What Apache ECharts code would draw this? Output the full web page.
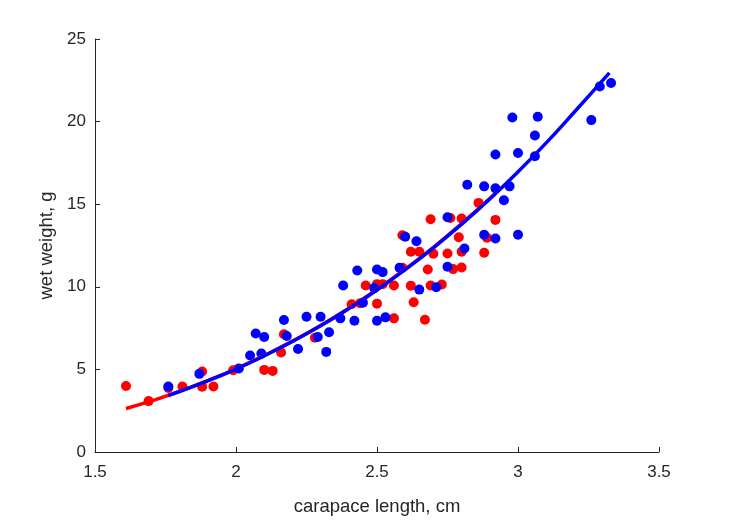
<!DOCTYPE html>
<html>
<head>
<meta charset="utf-8">
<script src="https://cdn.jsdelivr.net/npm/echarts@6/dist/echarts.min.js"></script>
<style>
  html, body {margin: 0; padding: 0; background: #fff;}
  #chart {width: 729px; height: 521px;}
</style>
</head>
<body>
<div id="chart"></div>
<script>
// measured points, [carapace length cm, wet weight g]
const redPoints = [
  [1.61, 3.99], [1.69, 3.08], [1.76, 3.88], [1.81, 3.97], [1.88, 4.87], [1.88, 3.95],
  [1.92, 3.97], [1.99, 4.95], [2.10, 4.97], [2.13, 4.91], [2.16, 6.02], [2.17, 7.13],
  [2.28, 6.92], [2.41, 8.94], [2.44, 9.0], [2.46, 10.08], [2.50, 10.16], [2.50, 8.98],
  [2.52, 10.16], [2.56, 10.08], [2.56, 8.09], [2.59, 13.12], [2.59, 11.15], [2.62, 12.12],
  [2.62, 10.07], [2.63, 9.06], [2.65, 12.12], [2.67, 8.01], [2.68, 11.05], [2.69, 14.09],
  [2.69, 10.08], [2.70, 12.0], [2.73, 10.14], [2.75, 12.02], [2.76, 14.17], [2.77, 11.07],
  [2.79, 13.0], [2.80, 11.17], [2.80, 14.13], [2.80, 12.12], [2.86, 15.08], [2.88, 12.06],
  [2.89, 12.97], [2.92, 14.05]
];
const bluePoints = [
  [1.76, 3.97], [1.87, 4.73], [2.01, 5.05], [2.05, 5.84], [2.07, 7.17], [2.09, 5.96],
  [2.10, 6.96], [2.17, 7.99], [2.18, 7.02], [2.22, 6.24], [2.25, 8.19], [2.29, 6.96],
  [2.30, 8.19], [2.32, 6.06], [2.33, 7.25], [2.37, 8.09], [2.38, 10.08], [2.42, 7.95],
  [2.43, 10.99], [2.45, 9.04], [2.49, 9.92], [2.50, 11.05], [2.50, 7.95], [2.52, 10.89],
  [2.53, 8.15], [2.58, 11.15], [2.60, 13.03], [2.64, 12.76], [2.65, 9.83], [2.71, 9.98],
  [2.75, 14.21], [2.75, 11.21], [2.81, 12.32], [2.82, 16.18], [2.88, 16.08], [2.88, 13.15],
  [2.92, 15.96], [2.92, 12.92], [2.92, 18.01], [2.95, 15.24], [2.97, 16.08], [2.98, 20.25],
  [3.00, 18.10], [3.00, 13.15], [3.06, 17.9], [3.06, 19.16], [3.07, 20.29], [3.26, 20.09],
  [3.29, 22.12], [3.33, 22.34]
];
// fitted curves
const redFitX = [1.61, 1.7, 1.8, 1.9, 2.0, 2.1, 2.2, 2.3, 2.4, 2.5, 2.6, 2.7, 2.8, 2.92];
const redFitY = [2.63, 3.09, 3.67, 4.32, 5.04, 5.84, 6.71, 7.66, 8.71, 9.84, 11.07, 12.39, 13.82, 15.66];
const blueFitX = [1.76, 1.9, 2.0, 2.1, 2.2, 2.3, 2.4, 2.5, 2.6, 2.7, 2.8, 2.9, 3.0, 3.1, 3.2, 3.324];
const blueFitY = [3.42, 4.31, 5.02, 5.82, 6.69, 7.64, 8.68, 9.81, 11.04, 12.36, 13.79, 15.32, 16.96, 18.71, 20.58, 22.95];

const xTicks = [1.5, 2, 2.5, 3, 3.5];
const yTicks = [0, 5, 10, 15, 20, 25];

const axisColor = "#262626";
const font = "Liberation Sans, Arial, Helvetica, sans-serif";

const zip = (xs, ys) => xs.map((x, i) => [x, ys[i]]);

const chart = echarts.init(document.getElementById("chart"));
chart.setOption({
  animation: false,
  backgroundColor: "#fff",
  grid: {left: 95, right: 70, top: 39, bottom: 68, containLabel: false},
  xAxis: {
    type: "value",
    min: xTicks[0],
    max: xTicks[xTicks.length - 1],
    interval: 0.5,
    name: "carapace length, cm",
    nameLocation: "middle",
    nameGap: 45,
    nameTextStyle: {color: axisColor, fontSize: 18.5, fontFamily: font},
    axisLine: {show: true, lineStyle: {color: axisColor, width: 1}},
    axisTick: {show: true, inside: true, length: 5, lineStyle: {color: axisColor}},
    axisLabel: {color: axisColor, fontSize: 17, fontFamily: font, margin: 12},
    splitLine: {show: false},
  },
  yAxis: {
    type: "value",
    min: yTicks[0],
    max: yTicks[yTicks.length - 1],
    interval: 5,
    name: "wet weight, g",
    nameLocation: "middle",
    nameGap: 38,
    nameTextStyle: {color: axisColor, fontSize: 18.5, fontFamily: font},
    axisLine: {show: true, lineStyle: {color: axisColor, width: 1}},
    axisTick: {show: true, inside: true, length: 5, lineStyle: {color: axisColor}},
    axisLabel: {color: axisColor, fontSize: 17, fontFamily: font, margin: 9},
    splitLine: {show: false},
  },
  series: [
    {
      type: "scatter",
      data: redPoints,
      symbolSize: 10,
      itemStyle: {color: "#ff0000", opacity: 1},
      z: 2,
    },
    {
      type: "scatter",
      data: bluePoints,
      symbolSize: 10,
      itemStyle: {color: "#0000ff", opacity: 1},
      z: 3,
    },
    {
      type: "line",
      data: zip(redFitX, redFitY),
      smooth: true,
      showSymbol: false,
      lineStyle: {color: "#ff0000", width: 3.5},
      z: 4,
    },
    {
      type: "line",
      data: zip(blueFitX, blueFitY),
      smooth: true,
      showSymbol: false,
      lineStyle: {color: "#0000ff", width: 3.5},
      z: 5,
    },
  ],
});
</script>
</body>
</html>
